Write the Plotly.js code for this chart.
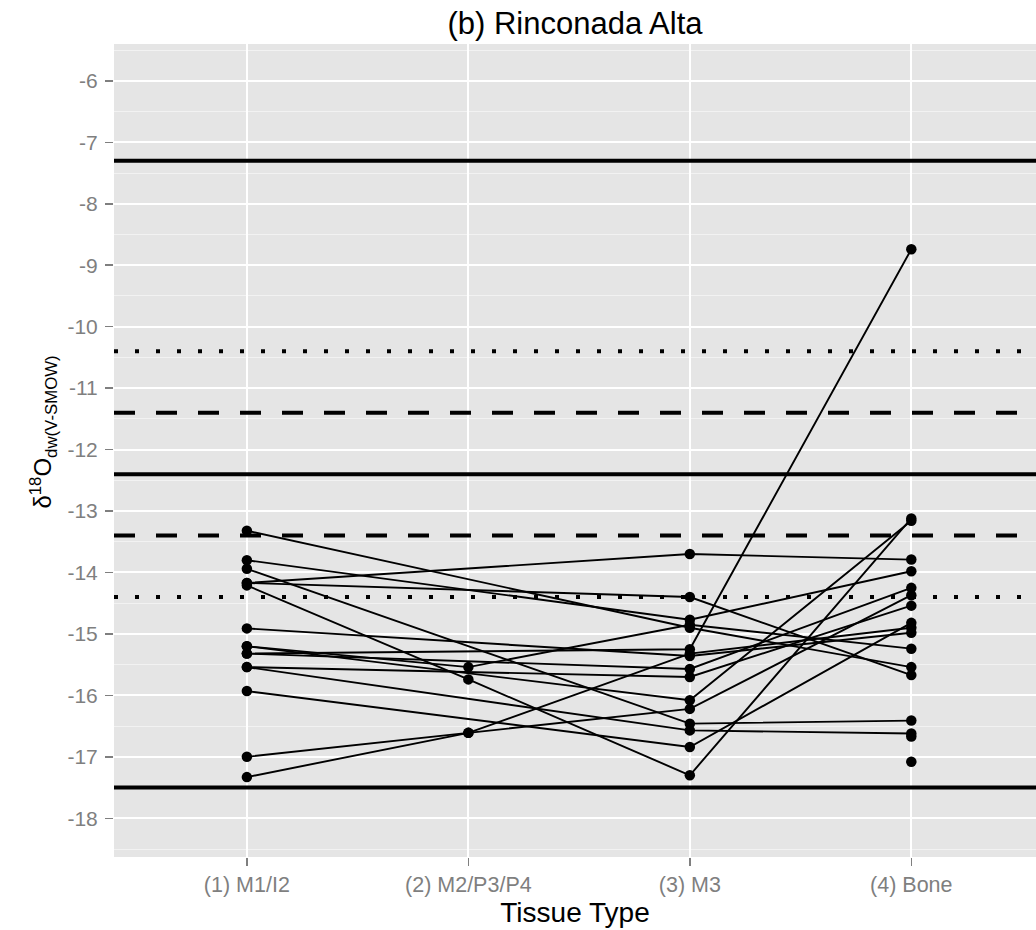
<!DOCTYPE html>
<html>
<head>
<meta charset="utf-8">
<script src="https://cdn.plot.ly/plotly-3.0.1.min.js"></script>
<style>html,body{margin:0;padding:0;background:#fff;}#chart{width:1036px;height:930px;}</style>
</head>
<body>
<div id="chart"></div>
<script>
// Tissue categories (x axis)
const tissues = ["(1) M1/I2", "(2) M2/P3/P4", "(3) M3", "(4) Bone"];

// One entry per individual; null = tissue not sampled
const m1   = [-13.32, -13.80, -13.94, -14.17, -14.17, -14.21, -14.91, -15.20, -15.32, -15.32, -15.54, -15.54, -15.93, -17.00, -17.33, -15.20, null, null];
const m2   = [null, null, null, null, null, -15.74, null, -15.54, null, null, null, null, null, -16.61, -16.61, null, null, null];
const m3   = [-14.90, -14.77, -16.46, -13.70, -14.40, -17.30, -15.36, -14.85, -15.25, -15.57, -15.70, -16.57, -16.84, -16.22, -15.32, -16.08, null, null];
const bone = [-15.54, -13.98, -16.41, -13.79, -15.67, -13.12, -14.98, -15.24, -8.74, -14.25, -14.54, -16.62, -14.82, -14.37, -14.90, -13.16, -17.08, -16.67];

// Y tick values
const yTicks = [-18, -17, -16, -15, -14, -13, -12, -11, -10, -9, -8, -7, -6];

// Reference lines
const solidLines  = [-7.3, -12.4, -17.5];
const dashedLines = [-11.4, -13.4];
const dottedLines = [-10.4, -14.4];

const traces = [];
for (let i = 0; i < m1.length; i++) {
  const vals = [m1[i], m2[i], m3[i], bone[i]];
  const xs = [], ys = [];
  vals.forEach((v, k) => { if (v !== null) { xs.push(tissues[k]); ys.push(v); } });
  traces.push({
    type: "scatter", mode: "lines+markers", x: xs, y: ys,
    line: {color: "#000", width: 1.9},
    marker: {color: "#000", size: 10.5},
    showlegend: false, hoverinfo: "x+y"
  });
}

const shapes = [];
function hline(y, dash) {
  shapes.push({type: "line", xref: "paper", x0: 0, x1: 1, yref: "y", y0: y, y1: y,
    line: {color: "#000", width: 4, dash: dash}, layer: "above"});
}
solidLines.forEach(y => hline(y, "solid"));
dashedLines.forEach(y => hline(y, "21px,21px"));
dottedLines.forEach(y => hline(y, "4px,17px"));

const layout = {
  width: 1036, height: 930,
  margin: {l: 114, r: 0, t: 44, b: 73},
  paper_bgcolor: "#fff", plot_bgcolor: "#E5E5E5",
  font: {family: "Liberation Sans, Arial, sans-serif", color: "#000"},
  title: {text: "(b) Rinconada Alta", x: 0.555, xanchor: "center", y: 0.975, yanchor: "middle",
          font: {size: 31, color: "#000"}},
  xaxis: {
    type: "category", categoryorder: "array", categoryarray: tissues,
    range: [-0.6, 3.563], showgrid: true, gridcolor: "#fff", gridwidth: 2,
    zeroline: false, showline: false,
    ticks: "outside", ticklen: 8, tickwidth: 1.5, tickcolor: "#7F7F7F",
    tickfont: {size: 21.5, color: "#7F7F7F"},
    title: {text: "Tissue Type", font: {size: 28, color: "#000"}, standoff: 0}
  },
  yaxis: {
    range: [-18.63, -5.40], tickmode: "array", tickvals: yTicks,
    ticktext: yTicks.map(v => String(v)),
    showgrid: true, gridcolor: "#fff", gridwidth: 2,
    minor: {dtick: 0.5, tick0: -5.5, showgrid: true, gridcolor: "#F2F2F2", gridwidth: 1},
    zeroline: false, showline: false,
    ticks: "outside", ticklen: 8, tickwidth: 1.5, tickcolor: "#7F7F7F",
    tickfont: {size: 21, color: "#7F7F7F"},
    ticklabelstandoff: 3
  },
  annotations: [{
    text: "δ<sup>18</sup>O<sub>dw(V-SMOW)</sub>", textangle: -90,
    xref: "paper", yref: "paper", x: -0.077, y: 0.522, xanchor: "center", yanchor: "middle",
    showarrow: false, font: {size: 24, color: "#000"}
  }],
  shapes: shapes
};

Plotly.newPlot("chart", traces, layout, {displayModeBar: false, staticPlot: true});
</script>
</body>
</html>
